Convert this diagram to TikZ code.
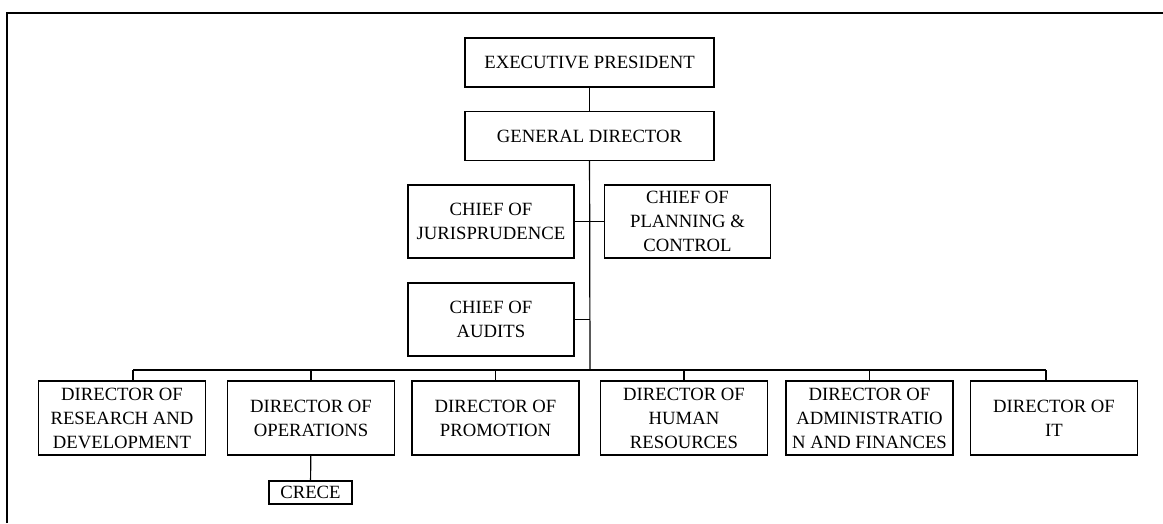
\documentclass[tikz,border=0pt]{standalone}
\usepackage{fontspec}
\setmainfont{Liberation Serif}
\tikzset{
  postbox/.style={draw, line width=1.4pt, inner sep=0pt, align=center,
    font=\fontsize{18.7}{24}\selectfont},
  widebox/.style={postbox, minimum width=249pt, minimum height=49pt},
  chiefbox/.style={postbox, minimum width=166pt, minimum height=73pt},
  dirbox/.style={postbox, minimum width=167pt, minimum height=74pt},
  link/.style={line width=1.2pt},
}
\begin{document}
\begin{tikzpicture}[x=1pt,y=-1pt]
        \useasboundingbox (0,0) rectangle (1163,523);
        %% Frame
        \draw[line width=2pt] (7,523) -- (7,13) -- (1163,13);
        %% top posts
        \node[widebox] (pres) at (589.5,62.5) {EXECUTIVE PRESIDENT};
        \node[widebox] (gendir) at (589.5,136) {GENERAL DIRECTOR};
        %% chiefs
        \node[chiefbox] (juris) at (491,221.5) {CHIEF OF\\JURISPRUDENCE};
        \node[chiefbox] (plan) at (687.5,221.5) {CHIEF OF\\PLANNING \&\\CONTROL};
        \node[chiefbox] (audit) at (491,319.5) {CHIEF OF\\AUDITS};
        %% directors
        \node[dirbox] (resdev) at (122,418) {DIRECTOR OF\\RESEARCH AND\\DEVELOPMENT};
        \node[dirbox] (oper) at (311,418) {DIRECTOR OF\\OPERATIONS};
        \node[dirbox] (promo) at (495.5,418) {DIRECTOR OF\\PROMOTION};
        \node[dirbox] (human) at (684,418) {DIRECTOR OF\\HUMAN\\RESOURCES};
        \node[dirbox] (admin) at (869.5,418) {DIRECTOR OF\\ADMINISTRATIO\\N AND FINANCES};
        \node[dirbox] (infotech) at (1054,418) {DIRECTOR OF\\IT};
        %% unit under operations
        \node[postbox, minimum width=83pt, minimum height=23pt] (crece) at (310.5,492.5) {CRECE};
        %% trunk and bus
        \coordinate (bus) at (590,370);
        \coordinate (busL) at (133,370);
        \coordinate (busR) at (1046,370);
        \draw[link] (pres) -- (gendir);
        \draw[link] (gendir) -- (bus);
        \draw[link] (juris) -- (plan);
        \draw[link] (audit.east) -- (audit.east -| bus);
        \draw[link] (busL) -- (busR);
        %% drops to directors
        \draw[link] (busL) -- (busL |- resdev.north);
        \draw[link] (oper.north) -- (oper.north |- bus);
        \draw[link] (promo.north) -- (promo.north |- bus);
        \draw[link] (human.north) -- (human.north |- bus);
        \draw[link] (admin.north) -- (admin.north |- bus);
        \draw[link] (busR) -- (busR |- infotech.north);
        \draw[link] (oper) -- (crece);
    \end{tikzpicture}
\end{document}
